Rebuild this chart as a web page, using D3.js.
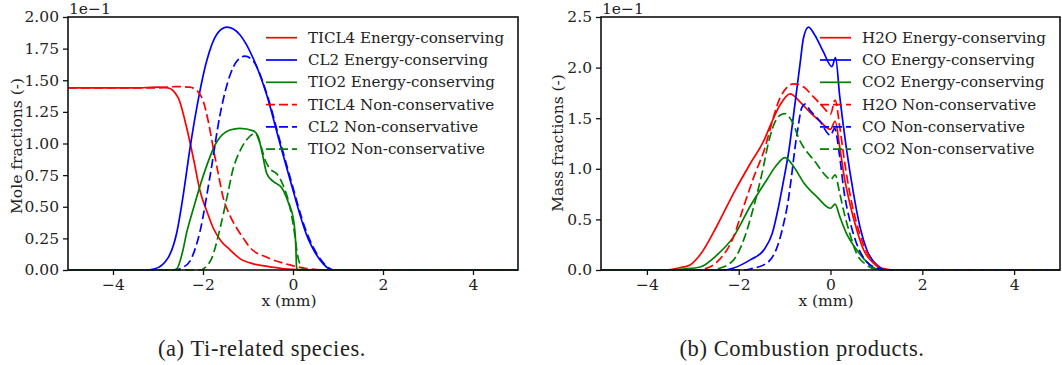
<!DOCTYPE html>
<html>
<head>
<meta charset="utf-8">
<script src="https://cdn.jsdelivr.net/npm/d3@7"></script>
<style>
  body { margin: 0; background: #fff; }
</style>
</head>
<body>
<svg id="fig" width="1062" height="365"></svg>
<script>
// x axis ticks shared by both panels
const xTicks = [-4, -2, 0, 2, 4];
const yTicksA = [0, 0.25, 0.5, 0.75, 1.0, 1.25, 1.5, 1.75, 2.0];
const yTicksB = [0, 0.5, 1.0, 1.5, 2.0, 2.5];

// panel (a) - mole fractions, units of 1e-1, [x (mm), value]
const ticl4Cons = [[-5,1.44],[-3.5,1.44],[-3.0,1.445],[-2.78,1.44],[-2.55,1.36],[-2.36,1.12],[-2.2,0.86],[-2.07,0.63],[-1.9,0.45],[-1.77,0.33],[-1.6,0.23],[-1.4,0.16],[-1.18,0.09],[-0.9,0.05],[-0.6,0.03],[-0.2,0.01],[0.3,0.002],[0.6,0],[5,0]];
const cl2Cons = [[-5,0],[-3.3,0],[-3.07,0.01],[-2.77,0.1],[-2.58,0.3],[-2.44,0.59],[-2.29,0.96],[-2.14,1.28],[-1.92,1.65],[-1.70,1.86],[-1.47,1.92],[-1.18,1.86],[-0.88,1.67],[-0.58,1.38],[-0.29,1.0],[-0.07,0.72],[0.3,0.28],[0.6,0.08],[0.88,0],[5,0]];
const tio2Cons = [[-5,0],[-2.65,0],[-2.58,0.01],[-2.45,0.15],[-2.36,0.3],[-2.21,0.49],[-1.99,0.75],[-1.70,1.01],[-1.4,1.107],[-1.18,1.12],[-0.88,1.1],[-0.77,1.05],[-0.7,0.95],[-0.58,0.76],[-0.44,0.70],[-0.25,0.65],[-0.1,0.53],[0.01,0.40],[0.06,0.21],[0.08,0.02],[0.1,0],[5,0]];
const ticl4Non = [[-5,1.44],[-3,1.44],[-2.6,1.45],[-2.3,1.445],[-2.14,1.42],[-1.99,1.33],[-1.88,1.17],[-1.77,0.96],[-1.66,0.76],[-1.55,0.57],[-1.4,0.43],[-1.25,0.33],[-1.1,0.25],[-0.96,0.18],[-0.58,0.1],[-0.07,0.04],[0.3,0.012],[0.7,0],[5,0]];
const cl2Non = [[-5,0],[-2.6,0],[-2.45,0.02],[-2.29,0.07],[-2.07,0.3],[-1.84,0.75],[-1.62,1.23],[-1.4,1.54],[-1.25,1.65],[-1.07,1.69],[-0.88,1.65],[-0.58,1.39],[-0.29,1.02],[-0.07,0.74],[0.3,0.3],[0.6,0.09],[0.92,0],[5,0]];
const tio2Non = [[-5,0],[-2.05,0],[-1.95,0.02],[-1.81,0.09],[-1.62,0.33],[-1.47,0.57],[-1.33,0.80],[-1.18,0.94],[-1.03,1.03],[-0.84,1.08],[-0.73,1.0],[-0.62,0.87],[-0.51,0.80],[-0.36,0.76],[-0.22,0.67],[-0.07,0.50],[0.03,0.3],[0.1,0.12],[0.18,0.03],[0.3,0],[5,0]];

// panel (b) - mass fractions, units of 1e-1
const h2oCons = [[-5,0],[-3.6,0],[-3.3,0.02],[-3.06,0.05],[-2.84,0.15],[-2.47,0.44],[-2.11,0.76],[-1.75,1.05],[-1.45,1.28],[-1.31,1.43],[-1.10,1.63],[-0.88,1.74],[-0.66,1.66],[-0.45,1.56],[-0.23,1.47],[0,1.39],[0.1,1.47],[0.2,1.22],[0.3,0.92],[0.42,0.66],[0.57,0.40],[0.72,0.20],[0.93,0.07],[1.15,0.01],[1.35,0],[5,0]];
const coCons = [[-5,0],[-2.3,0],[-2.11,0.02],[-1.75,0.10],[-1.45,0.20],[-1.27,0.36],[-1.13,0.63],[-1.02,0.89],[-0.9,1.2],[-0.8,1.55],[-0.73,1.80],[-0.66,2.05],[-0.59,2.29],[-0.48,2.40],[-0.34,2.32],[-0.16,2.16],[0.03,2.01],[0.11,2.10],[0.2,1.72],[0.35,1.19],[0.5,0.76],[0.64,0.43],[0.79,0.20],[1.01,0.05],[1.25,0],[5,0]];
const co2Cons = [[-5,0],[-3.5,0],[-3.2,0.01],[-2.84,0.03],[-2.47,0.15],[-2.11,0.33],[-1.75,0.63],[-1.39,0.89],[-1.17,1.04],[-0.99,1.11],[-0.80,1.02],[-0.58,0.86],[-0.29,0.72],[0,0.61],[0.1,0.65],[0.2,0.53],[0.35,0.36],[0.57,0.20],[0.79,0.08],[1.0,0.01],[1.2,0],[5,0]];
const h2oNon = [[-5,0],[-2.9,0],[-2.75,0.01],[-2.47,0.08],[-2.11,0.33],[-1.89,0.63],[-1.67,0.92],[-1.42,1.22],[-1.31,1.40],[-1.10,1.70],[-0.80,1.84],[-0.59,1.81],[-0.37,1.71],[-0.16,1.61],[0,1.54],[0.1,1.68],[0.2,1.42],[0.3,1.09],[0.42,0.76],[0.57,0.46],[0.72,0.25],[0.93,0.08],[1.2,0.01],[1.4,0],[5,0]];
const coNon = [[-5,0],[-1.85,0],[-1.75,0.01],[-1.38,0.07],[-1.16,0.23],[-1.02,0.46],[-0.91,0.72],[-0.84,0.96],[-0.77,1.22],[-0.70,1.43],[-0.63,1.60],[-0.55,1.64],[-0.45,1.58],[-0.23,1.47],[0,1.33],[0.09,1.40],[0.2,1.12],[0.3,0.76],[0.42,0.49],[0.57,0.26],[0.79,0.08],[1.0,0.02],[1.2,0],[5,0]];
const co2Non = [[-5,0],[-2.6,0],[-2.47,0.01],[-2.11,0.10],[-1.89,0.30],[-1.67,0.63],[-1.49,0.96],[-1.34,1.28],[-1.20,1.47],[-1.10,1.53],[-0.99,1.545],[-0.84,1.47],[-0.66,1.27],[-0.52,1.17],[-0.37,1.09],[-0.08,0.92],[0,0.89],[0.1,0.94],[0.2,0.76],[0.3,0.56],[0.42,0.36],[0.57,0.16],[0.79,0.05],[0.95,0.01],[1.1,0],[5,0]];

const namesA = ["TICL4 Energy-conserving", "CL2 Energy-conserving", "TIO2 Energy-conserving",
                "TICL4 Non-conservative", "CL2 Non-conservative", "TIO2 Non-conservative"];
const namesB = ["H2O Energy-conserving", "CO Energy-conserving", "CO2 Energy-conserving",
                "H2O Non-conservative", "CO Non-conservative", "CO2 Non-conservative"];
const colors = ["#ff0000", "#0000ff", "#008000", "#ff0000", "#0000ff", "#008000"];
const dashed = [false, false, false, true, true, true];

const SERIF = "'DejaVu Serif', serif";
const svg = d3.select("#fig");

function label(sel, size) {
  return sel.style("font-family", SERIF).style("font-size", size + "px").style("fill", "#222");
}

function panel(opt) {
  const x = d3.scaleLinear().domain([-5, 5]).range([opt.left, opt.right]);
  const y = d3.scaleLinear().domain(opt.yDomain).range([270, 17]);
  const g = svg.append("g");

  const line = d3.line()
    .x(d => x(d[0]))
    .y(d => y(d[1]))
    .curve(d3.curveMonotoneX);

  opt.series.forEach((s, i) => {
    g.append("path")
      .attr("d", line(s))
      .attr("fill", "none")
      .attr("stroke", colors[i])
      .attr("stroke-width", 1.7)
      .attr("stroke-dasharray", dashed[i] ? "9,4" : null);
  });

  // frame
  g.append("rect")
    .attr("x", opt.left).attr("y", 17)
    .attr("width", opt.right - opt.left).attr("height", 253)
    .attr("fill", "none").attr("stroke", "#111").attr("stroke-width", 1.6);

  const xAxis = g.append("g")
    .attr("transform", "translate(0,270)")
    .call(d3.axisBottom(x).tickValues(xTicks).tickSize(5).tickPadding(4).tickFormat(d3.format("d")));
  const yAxis = g.append("g")
    .attr("transform", `translate(${opt.left},0)`)
    .call(d3.axisLeft(y).tickValues(opt.yTicks).tickSize(5).tickPadding(4).tickFormat(d3.format(opt.fmt)));
  [xAxis, yAxis].forEach(a => {
    a.select(".domain").remove();
    a.selectAll(".tick line").attr("stroke", "#111").attr("stroke-width", 1.3);
    label(a.selectAll(".tick text"), 15.5);
  });

  // scale offset text
  label(g.append("text").attr("x", opt.left + 1).attr("y", 14), 15.5).text("1e\u22121");

  // axis labels
  label(g.append("text").attr("x", opt.xLabelX).attr("y", 306)
    .attr("text-anchor", "middle"), 15.5).text("x (mm)");
  label(g.append("text")
    .attr("transform", `translate(${opt.yLabelX},${opt.yLabelY}) rotate(-90)`)
    .attr("text-anchor", "middle").attr("dominant-baseline", "central"), 15.5)
    .text(opt.yLabel);

  // legend
  opt.names.forEach((n, i) => {
    const ly = 37.7 + i * 22.3;
    g.append("line")
      .attr("x1", opt.legX).attr("x2", opt.legX + 31)
      .attr("y1", ly).attr("y2", ly)
      .attr("stroke", colors[i]).attr("stroke-width", 1.7)
      .attr("stroke-dasharray", dashed[i] ? "9,4" : null);
    label(g.append("text").attr("x", opt.legX + 42).attr("y", ly)
      .attr("dominant-baseline", "central"), 15.1).text(n);
  });

  // caption
  g.append("text").attr("x", opt.capX).attr("y", 356)
    .attr("text-anchor", "middle")
    .style("font-family", "'Liberation Serif', serif")
    .style("font-size", "22.5px").style("letter-spacing", "0.6px").style("fill", "#222")
    .text(opt.caption);
}

panel({
  left: 68, right: 518, yDomain: [0, 2], yTicks: yTicksA, fmt: ".2f",
  series: [ticl4Cons, cl2Cons, tio2Cons, ticl4Non, cl2Non, tio2Non],
  names: namesA, legX: 266, yLabel: "Mole fractions (-)", yLabelX: 17, yLabelY: 146,
  xLabelX: 289, capX: 262, caption: "(a) Ti-related species."
});

panel({
  left: 601, right: 1060, yDomain: [0, 2.5], yTicks: yTicksB, fmt: ".1f",
  series: [h2oCons, coCons, co2Cons, h2oNon, coNon, co2Non],
  names: namesB, legX: 820, yLabel: "Mass fractions (-)", yLabelX: 558, yLabelY: 143,
  xLabelX: 826, capX: 802, caption: "(b) Combustion products."
});
</script>
</body>
</html>
